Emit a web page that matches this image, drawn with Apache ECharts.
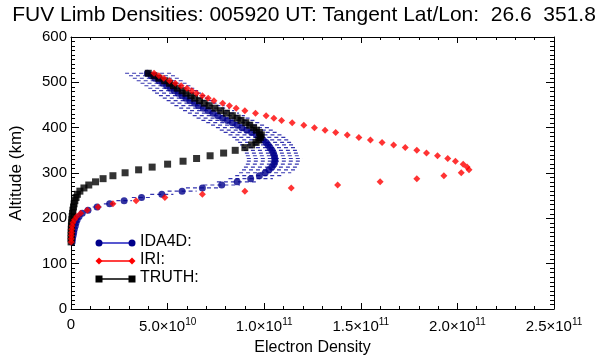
<!DOCTYPE html>
<html>
<head>
<meta charset="utf-8">
<script src="https://cdn.jsdelivr.net/npm/echarts@6/dist/echarts.min.js"></script>
<style>
html,body{margin:0;padding:0;background:#fff;}
#chart{width:608px;height:361px;}
</style>
</head>
<body>
<div id="chart"></div>
<script>
// Units: electron density in 1e10 per value, altitude in km
const UNIT = 1e10;
const titleText = "FUV Limb Densities: 005920 UT: Tangent Lat/Lon:  26.6  351.8";
const xTicks = [0, 5e10, 1e11, 1.5e11, 2e11, 2.5e11];
const yTicks = [0, 100, 200, 300, 400, 500, 600];

const altitudes = [520, 514.5, 509, 503.5, 498, 492.5, 487, 481.5, 476, 470.5,
  465, 459.5, 454, 448.5, 443, 437.5, 432, 426.5, 421, 416,
  411, 405.5, 400, 394.5, 389.5, 384, 378.5, 373, 367.5, 362,
  356, 350, 344, 338, 332, 326, 319.5, 313, 307, 300.5,
  294, 287.5, 280.5, 273.5, 267, 260, 253, 246, 239, 232,
  225, 218, 211, 204, 197, 190, 183, 176, 169, 162, 155, 148];

const ida4d = [3.95, 4.15, 4.35, 4.55, 4.75, 4.95, 5.15, 5.35, 5.55, 5.75,
  5.95, 6.15, 6.4, 6.6, 6.85, 7.1, 7.35, 7.6, 7.85, 8.1,
  8.35, 8.6, 8.85, 9.1, 9.35, 9.6, 9.8, 9.95, 10.1, 10.2,
  10.3, 10.4, 10.47, 10.52, 10.55, 10.55, 10.5, 10.4, 10.25, 10.05,
  9.75, 9.3, 8.6, 7.8, 6.8, 5.75, 4.7, 3.65, 2.75, 2.0,
  1.35, 0.88, 0.58, 0.42, 0.32, 0.26, 0.22, 0.17, 0.14, 0.11, 0.08, 0.06];

const ida4dLow = [2.8, 3.0, 3.2, 3.4, 3.6, 3.8, 4.0, 4.2, 4.35, 4.55,
  4.75, 4.95, 5.15, 5.35, 5.6, 5.8, 6.05, 6.3, 6.5, 6.75,
  7.0, 7.25, 7.5, 7.7, 7.9, 8.15, 8.35, 8.5, 8.65, 8.75,
  8.85, 8.95, 9.0, 9.05, 9.1, 9.1, 9.05, 8.95, 8.85, 8.7,
  8.5, 8.15, 7.55, 6.85, 5.95, 5.0, 4.1, 3.15, 2.35, 1.7,
  1.12, 0.7, 0.45, 0.32, 0.24, 0.2, 0.17, 0.13, 0.1, 0.08, 0.06, 0.04];

const ida4dHigh = [5.2, 5.4, 5.6, 5.8, 6.0, 6.2, 6.4, 6.6, 6.8, 7.0,
  7.2, 7.45, 7.7, 7.95, 8.2, 8.45, 8.7, 9.0, 9.25, 9.5,
  9.75, 10.0, 10.25, 10.5, 10.75, 11.0, 11.2, 11.4, 11.55, 11.65,
  11.75, 11.85, 11.9, 11.95, 12.0, 12.0, 11.95, 11.85, 11.65, 11.4,
  11.0, 10.45, 9.65, 8.75, 7.65, 6.5, 5.3, 4.15, 3.15, 2.3,
  1.58, 1.06, 0.71, 0.52, 0.4, 0.32, 0.27, 0.21, 0.18, 0.14, 0.1, 0.08];

const iri = [4.3, 4.55, 4.8, 5.1, 5.4, 5.7, 6.0, 6.25, 6.5, 6.8,
  7.1, 7.4, 7.85, 8.2, 8.55, 9.0, 9.55, 10.1, 10.5, 10.9,
  11.45, 12.05, 12.6, 13.15, 13.7, 14.3, 14.9, 15.5, 16.1, 16.7,
  17.3, 17.9, 18.4, 18.97, 19.5, 19.9, 20.3, 20.5, 20.6, 20.2,
  19.3, 17.9, 16.0, 13.8, 11.4, 9.0, 6.8, 4.86, 3.37, 2.17,
  1.4, 0.84, 0.5, 0.3, 0.18, 0.1, 0.06, 0.04, 0.03, 0.02, 0.015, 0.01];

const truth = [4.0, 4.3, 4.55, 4.85, 5.1, 5.3, 5.5, 5.75, 5.95, 6.2,
  6.4, 6.65, 6.9, 7.15, 7.45, 7.75, 8.05, 8.35, 8.6, 8.8,
  9.05, 9.25, 9.45, 9.6, 9.75, 9.85, 9.8, 9.72, 9.58, 9.35,
  9.0, 8.5, 7.9, 7.2, 6.5, 5.8, 5.0, 4.2, 3.5, 2.8,
  2.17, 1.66, 1.27, 0.92, 0.67, 0.46, 0.33, 0.26, 0.2, 0.16,
  0.13, 0.1, 0.08, 0.06, 0.045, 0.03, 0.02, 0.015, 0.01, 0.008, 0.006, 0.005];

const seriesNames = ["IDA4D:", "IRI:", "TRUTH:"];
const colors = { ida4d: "#00008b", err: "#3434b0", iri: "#ff0000", truth: "#000000" };

function pts(arr) { return arr.map((v, i) => [v * UNIT, altitudes[i]]); }
const errData = altitudes.map((a, i) => [ida4dLow[i] * UNIT, ida4dHigh[i] * UNIT, a]);

function fmtX(v) {
  if (v === 0) return "0";
  const e = Math.floor(Math.log10(v) + 1e-9);
  const m = v / Math.pow(10, e);
  return m.toFixed(1) + "×10{sup|" + e + "}";
}

const FONT = "Liberation Sans";
const chart = echarts.init(document.getElementById("chart"), null, { renderer: "canvas" });

const lineCommon = { show: true, onZero: false, lineStyle: { color: "#000", width: 1 } };

const option = {
  backgroundColor: "#fff",
  animation: false,
  title: {
    text: titleText, left: "center", top: 0,
    textStyle: { fontFamily: FONT, fontSize: 21, fontWeight: "normal", color: "#000" }
  },
  grid: { left: 66, right: 54, top: 37, bottom: 49, containLabel: false },
  xAxis: [
    {
      type: "value", position: "bottom", min: 0, max: 2.5e11, interval: 5e10,
      name: "Electron Density", nameLocation: "middle", nameGap: 31,
      nameTextStyle: { fontFamily: FONT, fontSize: 16, color: "#000" },
      axisLine: lineCommon, splitLine: { show: false },
      axisTick: { show: true, inside: true, length: 6, lineStyle: { color: "#000" } },
      minorTick: { show: true, splitNumber: 5, length: 3, lineStyle: { color: "#000" } },
      axisLabel: {
        show: true, margin: 8, color: "#000", fontFamily: FONT, fontSize: 15,
        formatter: fmtX,
        rich: { sup: { fontSize: 10, verticalAlign: "top", padding: [0, 0, 9, 0], fontFamily: FONT, color: "#000" } }
      }
    },
    {
      type: "value", position: "top", min: 0, max: 2.5e11, interval: 5e10,
      axisLine: lineCommon, splitLine: { show: false },
      axisTick: { show: true, inside: true, length: 6, lineStyle: { color: "#000" } },
      minorTick: { show: true, splitNumber: 5, length: 3, lineStyle: { color: "#000" } },
      axisLabel: { show: false }
    }
  ],
  yAxis: [
    {
      type: "value", position: "left", min: 0, max: 600, interval: 100,
      name: "Altitude (km)", nameLocation: "middle", nameGap: 46, nameRotate: 90,
      nameTextStyle: { fontFamily: FONT, fontSize: 17, color: "#000" },
      axisLine: lineCommon, splitLine: { show: false },
      axisTick: { show: true, inside: true, length: 8, lineStyle: { color: "#000" } },
      minorTick: { show: true, splitNumber: 10, length: 4, lineStyle: { color: "#000" } },
      axisLabel: { show: true, margin: 4, color: "#000", fontFamily: FONT, fontSize: 15 }
    },
    {
      type: "value", position: "right", min: 0, max: 600, interval: 100,
      axisLine: lineCommon, splitLine: { show: false },
      axisTick: { show: true, inside: true, length: 8, lineStyle: { color: "#000" } },
      minorTick: { show: true, splitNumber: 10, length: 4, lineStyle: { color: "#000" } },
      axisLabel: { show: false }
    }
  ],
  series: [
    {
      type: "custom", name: "IDA4D err", xAxisIndex: 0, yAxisIndex: 0,
      data: errData, encode: { x: [0, 1], y: 2 }, z: 2, silent: true,
      renderItem: function (params, api) {
        const p1 = api.coord([api.value(0), api.value(2)]);
        const p2 = api.coord([api.value(1), api.value(2)]);
        return {
          type: "line",
          shape: { x1: p1[0], y1: p1[1], x2: p2[0], y2: p2[1] },
          style: { stroke: colors.err, lineWidth: 1.2, lineDash: [4, 3] }
        };
      }
    },
    {
      type: "scatter", name: seriesNames[0], data: pts(ida4d), z: 3,
      symbol: "circle", symbolSize: 7, itemStyle: { color: colors.ida4d }
    },
    {
      type: "scatter", name: seriesNames[2], data: pts(truth), z: 4,
      symbol: "rect", symbolSize: 7, itemStyle: { color: colors.truth }
    },
    {
      type: "scatter", name: seriesNames[1], data: pts(iri), z: 5,
      symbol: "diamond", symbolSize: 7, itemStyle: { color: colors.iri }
    }
  ],
  graphic: [
    { type: "line", shape: { x1: 99, y1: 243, x2: 132, y2: 243 }, style: { stroke: "#2020c0", lineWidth: 1.5 }, z: 10 },
    { type: "circle", shape: { cx: 99, cy: 243, r: 3.5 }, style: { fill: colors.ida4d }, z: 11 },
    { type: "circle", shape: { cx: 132, cy: 243, r: 3.5 }, style: { fill: colors.ida4d }, z: 11 },
    { type: "text", left: 140, top: 234, style: { text: seriesNames[0], font: "16px 'Liberation Sans'", fill: "#000" }, z: 11 },
    { type: "line", shape: { x1: 99, y1: 261, x2: 132, y2: 261 }, style: { stroke: colors.iri, lineWidth: 1.5 }, z: 10 },
    { type: "polygon", shape: { points: [[99, 257.5], [102.5, 261], [99, 264.5], [95.5, 261]] }, style: { fill: colors.iri }, z: 11 },
    { type: "polygon", shape: { points: [[132, 257.5], [135.5, 261], [132, 264.5], [128.5, 261]] }, style: { fill: colors.iri }, z: 11 },
    { type: "text", left: 140, top: 252, style: { text: seriesNames[1], font: "16px 'Liberation Sans'", fill: "#000" }, z: 11 },
    { type: "line", shape: { x1: 99, y1: 279, x2: 132, y2: 279 }, style: { stroke: "#000", lineWidth: 1.5 }, z: 10 },
    { type: "rect", shape: { x: 95.5, y: 275.5, width: 7, height: 7 }, style: { fill: "#000" }, z: 11 },
    { type: "rect", shape: { x: 128.5, y: 275.5, width: 7, height: 7 }, style: { fill: "#000" }, z: 11 },
    { type: "text", left: 140, top: 270, style: { text: seriesNames[2], font: "16px 'Liberation Sans'", fill: "#000" }, z: 11 }
  ]
};
chart.setOption(option);
</script>
</body>
</html>
